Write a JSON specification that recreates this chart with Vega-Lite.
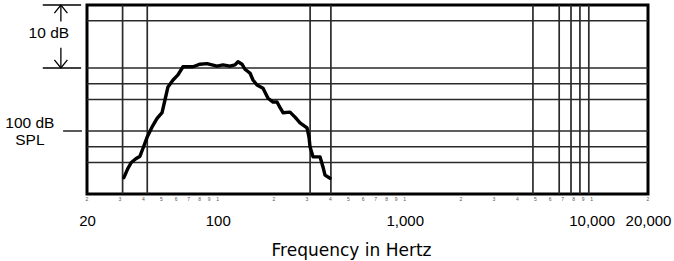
{
  "$schema": "https://vega.github.io/schema/vega-lite/v6.json",
  "width": 561,
  "height": 189,
  "autosize": {"type": "none"},
  "padding": {"left": 87, "top": 5, "right": 26, "bottom": 67},
  "background": "white",
  "config": {
    "view": {"stroke": "#000", "strokeWidth": 3},
    "font": "Liberation Sans",
    "axisX": {
      "grid": false, "domain": false, "ticks": false,
      "labelFontSize": 15, "labelColor": "#000", "labelPadding": 19,
      "labelFlush": false, "labelOverlap": false,
      "titleFont": "DejaVu Sans", "titleFontSize": 17, "titleFontWeight": "normal", "titleColor": "#000",
      "titleX": 264, "titleY": 56, "titleBaseline": "middle", "titleAnchor": "middle"
    }
  },
  "datasets": {
    "curve": [
      {"f": 31.5, "db": 92.6}, {"f": 33.0, "db": 94.0}, {"f": 34.5, "db": 95.0},
      {"f": 36.5, "db": 95.6}, {"f": 38.4, "db": 96.0}, {"f": 39.9, "db": 97.3},
      {"f": 41.9, "db": 99.0}, {"f": 44.5, "db": 100.6}, {"f": 47.4, "db": 102.0},
      {"f": 50.4, "db": 102.9}, {"f": 52.3, "db": 105.0}, {"f": 54.2, "db": 107.0},
      {"f": 57.7, "db": 108.1}, {"f": 61.3, "db": 108.9}, {"f": 65.2, "db": 110.2},
      {"f": 73.8, "db": 110.2}, {"f": 80.4, "db": 110.6}, {"f": 87.7, "db": 110.7},
      {"f": 93.2, "db": 110.5}, {"f": 99.1, "db": 110.3}, {"f": 106.7, "db": 110.5},
      {"f": 116.3, "db": 110.3}, {"f": 123.7, "db": 110.5}, {"f": 128.4, "db": 111.0},
      {"f": 134.9, "db": 110.6}, {"f": 139.9, "db": 109.8}, {"f": 148.8, "db": 109.2},
      {"f": 154.4, "db": 108.1}, {"f": 162.2, "db": 107.3}, {"f": 174.7, "db": 106.8},
      {"f": 185.8, "db": 105.2}, {"f": 197.6, "db": 104.6}, {"f": 207.6, "db": 104.6},
      {"f": 215.5, "db": 103.7}, {"f": 223.5, "db": 102.9}, {"f": 243.6, "db": 103.0},
      {"f": 259.1, "db": 102.2}, {"f": 275.5, "db": 101.3}, {"f": 300.4, "db": 100.5},
      {"f": 307.9, "db": 99.0}, {"f": 311.6, "db": 97.5}, {"f": 323.4, "db": 95.9},
      {"f": 352.4, "db": 95.9}, {"f": 365.6, "db": 94.3}, {"f": 374.8, "db": 93.0},
      {"f": 398.7, "db": 92.5}
    ],
    "hgrid": [
      {"db": 117.5}, {"db": 110}, {"db": 107.5}, {"db": 105},
      {"db": 100}, {"db": 97.5}, {"db": 95}
    ],
    "vgrid": [
      {"f": 31}, {"f": 42}, {"f": 312}, {"f": 403}, {"f": 4850},
      {"f": 6700}, {"f": 7750}, {"f": 8650}, {"f": 9650}
    ],
    "annot": [
      {"f1": 11.6, "f2": 18.6, "d1": 120, "d2": 120},
      {"f1": 11.6, "f2": 18.6, "d1": 110, "d2": 110},
      {"f1": 14.5, "f2": 14.5, "d1": 120, "d2": 117.4},
      {"f1": 14.5, "f2": 14.5, "d1": 113.2, "d2": 110},
      {"f1": 14.9, "f2": 18.8, "d1": 100, "d2": 100}
    ],
    "arrows": [
      {"f": 14.5, "db": 120, "dir": "up"},
      {"f": 14.5, "db": 110, "dir": "down"}
    ],
    "labels": [
      {"f": 12.5, "db": 115.6, "t": "10 dB"},
      {"f": 9.9, "db": 101.3, "t": "100 dB"},
      {"f": 9.9, "db": 98.6, "t": "SPL"}
    ],
    "minor": [
      {"f": 20, "t": "2"}, {"f": 30, "t": "3"}, {"f": 40, "t": "4"}, {"f": 50, "t": "5"},
      {"f": 60, "t": "6"}, {"f": 70, "t": "7"}, {"f": 80, "t": "8"}, {"f": 90, "t": "9"},
      {"f": 100, "t": "1"}, {"f": 200, "t": "2"}, {"f": 300, "t": "3"}, {"f": 400, "t": "4"},
      {"f": 500, "t": "5"}, {"f": 600, "t": "6"}, {"f": 700, "t": "7"}, {"f": 800, "t": "8"},
      {"f": 900, "t": "9"}, {"f": 1000, "t": "1"}, {"f": 2000, "t": "2"}, {"f": 3000, "t": "3"},
      {"f": 4000, "t": "4"}, {"f": 5000, "t": "5"}, {"f": 6000, "t": "6"}, {"f": 7000, "t": "7"},
      {"f": 8000, "t": "8"}, {"f": 9000, "t": "9"}, {"f": 10000, "t": "1"}, {"f": 20000, "t": "2"}
    ]
  },
  "layer": [
    {
      "data": {"name": "hgrid"},
      "mark": {"type": "rule", "color": "#2a2a2a", "strokeWidth": 1.7},
      "encoding": {
        "y": {"field": "db", "type": "quantitative", "scale": {"domain": [90, 120], "nice": false, "zero": false}, "axis": null}
      }
    },
    {
      "data": {"name": "vgrid"},
      "mark": {"type": "rule", "color": "#2a2a2a", "strokeWidth": 1.7},
      "encoding": {
        "x": {"field": "f", "type": "quantitative", "scale": {"type": "log", "domain": [20, 20000], "nice": false},
          "axis": {"values": [20, 100, 1000, 10000, 20000], "labelExpr": "format(datum.value, ',')", "title": "Frequency in Hertz"}}
      }
    },
    {
      "data": {"name": "curve"},
      "mark": {"type": "line", "color": "#000", "strokeWidth": 3.4, "strokeJoin": "round", "strokeCap": "round"},
      "encoding": {
        "x": {"field": "f", "type": "quantitative", "scale": {"type": "log", "domain": [20, 20000], "nice": false},
          "axis": {"values": [20, 100, 1000, 10000, 20000], "labelExpr": "format(datum.value, ',')", "title": "Frequency in Hertz"}},
        "y": {"field": "db", "type": "quantitative", "scale": {"domain": [90, 120], "nice": false, "zero": false}, "axis": null}
      }
    },
    {
      "data": {"name": "annot"},
      "mark": {"type": "rule", "color": "#000", "strokeWidth": 1.3},
      "encoding": {
        "x": {"field": "f1", "type": "quantitative",
          "axis": {"values": [20, 100, 1000, 10000, 20000], "labelExpr": "format(datum.value, ',')", "title": "Frequency in Hertz"}},
        "x2": {"field": "f2"},
        "y": {"field": "d1", "type": "quantitative", "axis": null},
        "y2": {"field": "d2"}
      }
    },
    {
      "data": {"name": "arrows"},
      "mark": {"type": "point", "filled": false, "stroke": "#000", "strokeWidth": 1.3, "size": 170, "opacity": 1},
      "encoding": {
        "x": {"field": "f", "type": "quantitative",
          "axis": {"values": [20, 100, 1000, 10000, 20000], "labelExpr": "format(datum.value, ',')", "title": "Frequency in Hertz"}},
        "y": {"field": "db", "type": "quantitative", "axis": null},
        "shape": {
          "field": "dir", "type": "nominal", "legend": null,
          "scale": {"domain": ["up", "down"], "range": ["M-1,1.25L0,0L1,1.25", "M-1,-1.25L0,0L1,-1.25"]}
        }
      }
    },
    {
      "data": {"name": "labels"},
      "mark": {"type": "text", "fontSize": 15.5, "color": "#000", "align": "center", "baseline": "middle"},
      "encoding": {
        "x": {"field": "f", "type": "quantitative",
          "axis": {"values": [20, 100, 1000, 10000, 20000], "labelExpr": "format(datum.value, ',')", "title": "Frequency in Hertz"}},
        "y": {"field": "db", "type": "quantitative", "axis": null},
        "text": {"field": "t"}
      }
    },
    {
      "data": {"name": "minor"},
      "mark": {"type": "text", "fontSize": 5, "color": "#555", "align": "center", "baseline": "middle"},
      "encoding": {
        "x": {"field": "f", "type": "quantitative",
          "axis": {"values": [20, 100, 1000, 10000, 20000], "labelExpr": "format(datum.value, ',')", "title": "Frequency in Hertz"}},
        "y": {"datum": 89.2, "type": "quantitative", "axis": null},
        "text": {"field": "t"}
      }
    }
  ]
}
